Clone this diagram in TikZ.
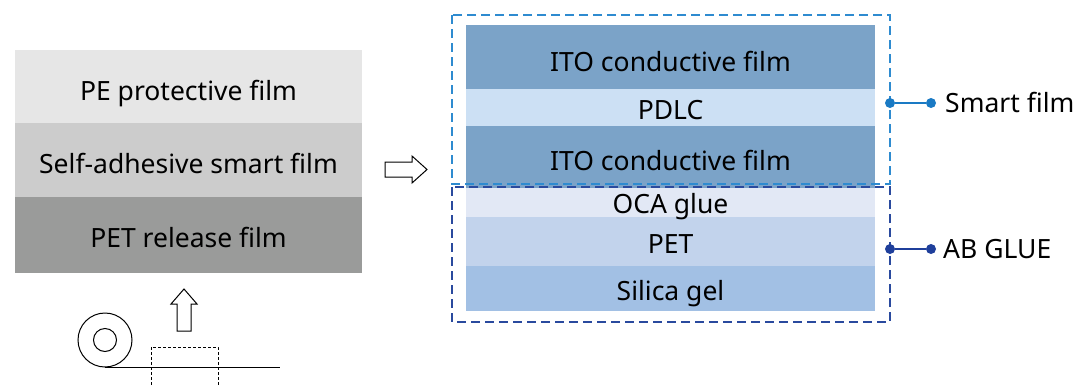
\documentclass[tikz,border=0pt]{standalone}
\usepackage{fontspec}
\setmainfont{Noto Sans}
\usetikzlibrary{positioning}

\definecolor{pegray}{HTML}{E6E6E6}
\definecolor{sagray}{HTML}{CCCCCC}
\definecolor{petgray}{HTML}{9A9B9A}
\definecolor{itoblue}{HTML}{7BA3C8}
\definecolor{pdlcblue}{HTML}{CCE0F4}
\definecolor{ocablue}{HTML}{E2E8F5}
\definecolor{petblue}{HTML}{C2D3EC}
\definecolor{silblue}{HTML}{A2C0E4}
\definecolor{smartline}{HTML}{2E8BD0}
\definecolor{smartdot}{HTML}{1A7AC4}
\definecolor{abline}{HTML}{2A4A9E}
\definecolor{abdot}{HTML}{1F3F9B}

\tikzset{
  layer/.style={rectangle,draw=none,inner sep=0pt,outer sep=0pt,
    font=\fontsize{26.5}{30}\selectfont,text depth=0pt},
  leftlayer/.style={layer,minimum width=347pt,text height=27pt},
  rightlayer/.style={layer,minimum width=409pt,text height=23pt},
  groupbox/.style={dash pattern=on 9pt off 5pt,line width=1.4pt},
  tagdot/.style={circle,fill,inner sep=0pt,minimum size=10pt},
  tagtext/.style={anchor=west,inner sep=0pt,font=\fontsize{26.5}{30}\selectfont,
    text height=19pt,text depth=0pt},
  hollow/.style={draw=black,line width=1pt,fill=white,line join=miter}
}

\begin{document}
\begin{tikzpicture}[x=1pt,y=-1pt]
\useasboundingbox (0,0) rectangle (1078,386);
% left stack
\node[leftlayer,fill=pegray,minimum height=73pt] (pe) at (188.5,86.5) {PE protective film};
\node[leftlayer,fill=sagray,minimum height=74pt,below=0pt of pe] (sa) {Self-adhesive smart film};
\node[leftlayer,fill=petgray,minimum height=76pt,below=0pt of sa,text height=25pt] (rel) {PET release film};

% right stack
\node[rightlayer,fill=itoblue,minimum height=64pt,text height=28pt] (itoa) at (670.5,57) {ITO conductive film};
\node[rightlayer,fill=pdlcblue,minimum height=37pt,below=0pt of itoa] (pdlc) {PDLC};
\node[rightlayer,fill=itoblue,minimum height=62pt,below=0pt of pdlc,text height=26pt] (itob) {ITO conductive film};
\node[rightlayer,fill=petblue,minimum height=49pt,below=29pt of itob] (pet) {PET};
\node[rightlayer,fill=silblue,minimum height=45pt,below=0pt of pet] (sil) {Silica gel};
\node[rightlayer,fill=ocablue,minimum height=29pt,above=0pt of pet,text height=21pt] (oca) {OCA glue};

% group boxes
\draw[groupbox,smartline] (452,15) rectangle (890,184);
\draw[groupbox,abline] (452,187) rectangle (890,322);

% tags
\node[tagdot,smartdot] (sfa) at (890,103) {};
\node[tagdot,smartdot] (sfb) at (931,103) {};
\node[tagtext] (sftext) at (945,103) {Smart film};
\draw[smartdot,line width=1.3pt] (sfa) -- (sfb);
\node[tagdot,abdot] (aba) at (890,249) {};
\node[tagdot,abdot] (abb) at (931,249) {};
\node[tagtext] (abtext) at (943,249) {AB GLUE};
\draw[abdot,line width=1.3pt] (aba) -- (abb);

% hollow arrows
\draw[hollow] (385,162) -- (412,162) -- (412,156) -- (427,169.5) -- (412,183)
  -- (412,177) -- (385,177) -- cycle;
\draw[hollow] (177,331) -- (177,304) -- (171,304) -- (184,289) -- (197,304)
  -- (191,304) -- (191,331) -- cycle;

% roll
\coordinate (rollc) at (105,340);
\draw[line width=1pt] (rollc) circle[radius=27];
\draw[line width=1pt] (rollc) circle[radius=11.5];
\draw[line width=1pt] (105,367) -- (280,367);
\draw[line width=0.8pt,densely dashed] (151,390) -- (151,347) -- (218,347) -- (218,390);
\end{tikzpicture}
\end{document}
